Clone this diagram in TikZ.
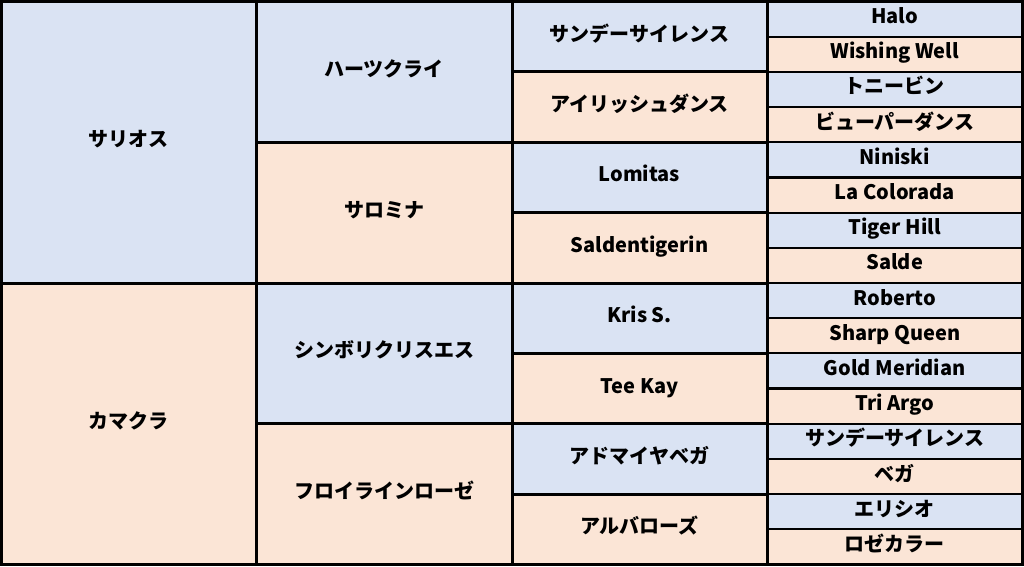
\documentclass[tikz,border=0pt]{standalone}
\usepackage{fontspec}
\setmainfont{Noto Sans CJK JP}
\definecolor{pedblue}{RGB}{218,227,243}
\definecolor{pedpink}{RGB}{251,229,214}
\tikzset{
  cell/.style={draw=black, line width=3pt, inner sep=0pt, align=center,
    text height=16pt, text depth=7pt,
    font=\fontsize{20}{24}\selectfont\bfseries},
  leaf/.style={cell, line width=2.2pt, minimum width=255.5, minimum height=\rowh}
}
\newcommand{\rowh}{35.1875}
\begin{document}
\begin{tikzpicture}[x=1pt,y=-1pt]
        \useasboundingbox (0,0) rectangle (1024,566);

        % 4th generation (one row each)
        \foreach \txt/\col [count=\i from 0] in {
            Halo/pedblue, Wishing Well/pedpink,
            トニービン/pedblue, ビューパーダンス/pedpink,
            Niniski/pedblue, La Colorada/pedpink,
            Tiger Hill/pedblue, Salde/pedpink,
            Roberto/pedblue, Sharp Queen/pedpink,
            Gold Meridian/pedblue, Tri Argo/pedpink,
            サンデーサイレンス/pedblue, ベガ/pedpink,
            エリシオ/pedblue, ロゼカラー/pedpink} {
          \node[leaf, fill=\col] (ggp-\i) at (894.75, {1.5+(\i+0.5)*\rowh}) {\txt};
        }

        % 3rd generation (two rows each)
        \foreach \txt/\col [count=\i from 0] in {
            サンデーサイレンス/pedblue, アイリッシュダンス/pedpink,
            Lomitas/pedblue, Saldentigerin/pedpink,
            Kris S./pedblue, Tee Kay/pedpink,
            アドマイヤベガ/pedblue, アルバローズ/pedpink} {
          \node[cell, fill=\col, minimum width=255, minimum height=2*\rowh]
            (gp-\i) at (639.5, {1.5+(2*\i+1)*\rowh}) {\txt};
        }

        % 2nd generation (four rows each)
        \foreach \txt/\col [count=\i from 0] in {
            ハーツクライ/pedblue, サロミナ/pedpink,
            シンボリクリスエス/pedblue, フロイラインローゼ/pedpink} {
          \node[cell, fill=\col, minimum width=256, minimum height=4*\rowh]
            (p-\i) at (384, {1.5+(4*\i+2)*\rowh}) {\txt};
        }

        % sire and dam
        \node[cell, fill=pedblue, minimum width=254.5, minimum height=8*\rowh]
          (sire) at (128.75, {1.5+4*\rowh}) {サリオス};
        \node[cell, fill=pedpink, minimum width=254.5, minimum height=8*\rowh]
          (dam) at (128.75, {1.5+12*\rowh}) {カマクラ};

\end{tikzpicture}
\end{document}
